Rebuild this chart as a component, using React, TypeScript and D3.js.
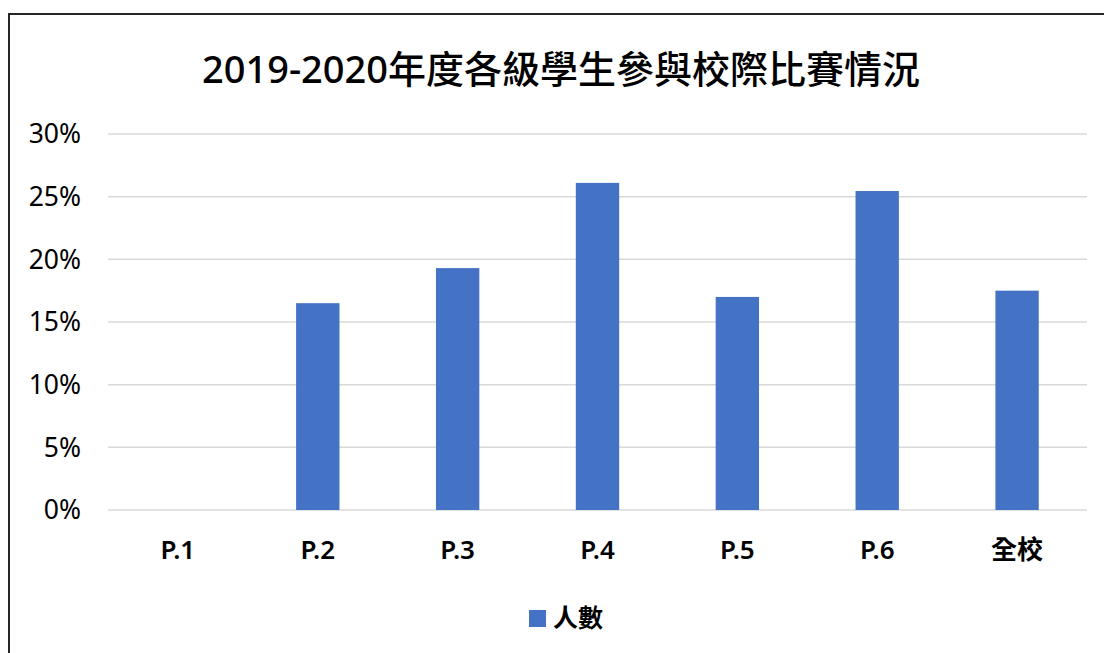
import React from "react";
import * as d3 from "d3";

const title = "2019-2020年度各級學生參與校際比賽情況";
const categories = ["P.1", "P.2", "P.3", "P.4", "P.5", "P.6", "全校"];
const values = [0, 0.165, 0.193, 0.261, 0.17, 0.2545, 0.175];
const yTicks = [0, 0.05, 0.1, 0.15, 0.2, 0.25, 0.3];
const seriesName = "人數";

const W = 1104;
const H = 653;
const FONT = "'Noto Sans', 'Noto Sans CJK TC', sans-serif";

export default function App() {
  const x = d3
    .scaleBand<string>()
    .domain(categories)
    .range([108, 1087])
    .paddingInner(0.69)
    .paddingOuter(0.345);
  const y = d3.scaleLinear().domain([0, 0.3]).range([510, 134]);
  const fmt = d3.format(".0%");

  return (
    <svg
      width={W}
      height={H}
      style={{ position: "absolute", left: 0, top: 0, background: "#fff" }}
      fontFamily={FONT}
    >
      <rect x={9} y={14} width={1200} height={800} fill="#fff" stroke="#262626" strokeWidth={2} />
      <text x={561} y={83} textAnchor="middle" fontSize={38} fill="#000" fontWeight={500}>
        {title}
      </text>
      {yTicks.map((t) => (
        <g key={t}>
          <line x1={108} x2={1087} y1={y(t)} y2={y(t)} stroke="#d9d9d9" strokeWidth={1.5} />
          <text x={81} y={y(t)} dy="0.35em" textAnchor="end" fontSize={26.5} fill="#000">
            {fmt(t)}
          </text>
        </g>
      ))}
      {categories.map((c, i) => (
        <rect
          key={c}
          x={x(c)}
          width={x.bandwidth()}
          y={y(values[i])}
          height={y(0) - y(values[i])}
          fill="#4472C4"
        />
      ))}
      {categories.map((c) => (
        <text
          key={c}
          x={(x(c) as number) + x.bandwidth() / 2}
          y={559}
          textAnchor="middle"
          fontSize={26}
          fontWeight={600}
          fill="#000"
        >
          {c}
        </text>
      ))}
      <rect x={529} y={610} width={17} height={17} fill="#4472C4" />
      <text x={553} y={627} fontSize={25} fontWeight={700} fill="#000">
        {seriesName}
      </text>
    </svg>
  );
}
